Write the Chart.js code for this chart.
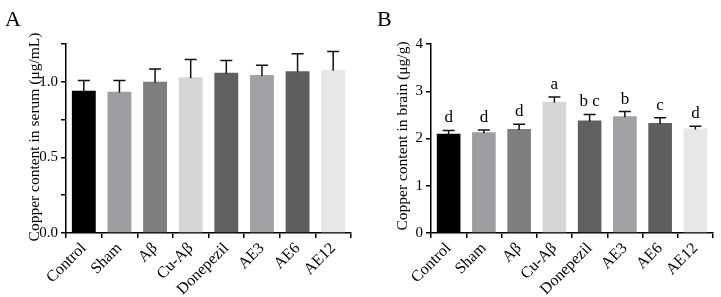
<!DOCTYPE html>
<html><head><meta charset="utf-8">
<script src="https://cdn.jsdelivr.net/npm/chart.js@4"></script>
<style>
html,body{margin:0;padding:0;background:#fff;width:721px;height:297px;overflow:hidden;}
#wrap{position:relative;width:721px;height:297px;}
canvas{position:absolute;top:0;}
.plabel{position:absolute;font-family:"Liberation Serif",serif;font-size:22px;color:#000;line-height:1;}
</style></head>
<body>
<div id="wrap">
<canvas id="cA" width="360" height="297" style="left:0"></canvas>
<canvas id="cB" width="361" height="297" style="left:360px"></canvas>
<div class="plabel" style="left:5px;top:8px">A</div>
<div class="plabel" style="left:377px;top:8px">B</div>
</div>
<script>
const categories = ['Control','Sham','Aβ','Cu-Aβ','Donepezil','AE3','AE6','AE12'];
const serumMean = [0.94, 0.935, 1.00, 1.03, 1.06, 1.045, 1.07, 1.08];
const serumErr  = [0.068, 0.074, 0.084, 0.117, 0.081, 0.065, 0.115, 0.12];
const brainMean = [2.10, 2.13, 2.20, 2.78, 2.38, 2.47, 2.33, 2.21];
const brainErr  = [0.07, 0.05, 0.10, 0.10, 0.13, 0.10, 0.11, 0.05];
const brainLetters = ['d','d','d','a','b c','b','c','d'];
const serumTickLabels = [0, 0.5, 1.0];
const barColors = ['#000000','#9d9da2','#7e7e7e','#d6d6d6','#606060','#a1a1a5','#5f5f5f','#e7e7e7'];

const FONT = '"Liberation Serif", "Times New Roman", serif';

const errPlugin = {
  id: 'errbars',
  afterDatasetsDraw(chart, args, opts) {
    const ctx = chart.ctx;
    const meta = chart.getDatasetMeta(0);
    const ys = chart.scales.y;
    const ds = chart.data.datasets[0];
    ctx.save();
    ctx.strokeStyle = '#111';
    ctx.lineWidth = 1.5;
    meta.data.forEach((bar, i) => {
      const v = ds.data[i];
      const e = opts.err[i];
      const yTop = ys.getPixelForValue(v + e);
      const yBase = ys.getPixelForValue(v);
      ctx.beginPath();
      ctx.moveTo(bar.x, yBase + 1);
      ctx.lineTo(bar.x, yTop);
      ctx.moveTo(bar.x - 6, yTop);
      ctx.lineTo(bar.x + 6, yTop);
      ctx.stroke();
      if (opts.letters) {
        ctx.fillStyle = '#000';
        ctx.font = '17px ' + FONT;
        ctx.textAlign = 'center';
        ctx.textBaseline = 'alphabetic';
        ctx.fillText(opts.letters[i], bar.x, yTop - 8);
      }
    });
    ctx.fillStyle = '#000';
    ctx.font = '15.5px ' + FONT;
    ctx.translate(opts.titleX, opts.titleY);
    ctx.rotate(-Math.PI / 2);
    ctx.textAlign = 'center';
    ctx.textBaseline = 'middle';
    ctx.fillText(opts.title, 0, 0);
    ctx.restore();
  }
};

function makeChart(id, values, err, letters, yOpts, leftW, rightPad, title, titleX, titleY) {
  return new Chart(document.getElementById(id), {
    type: 'bar',
    data: {
      labels: categories,
      datasets: [{
        data: values,
        backgroundColor: barColors,
        borderWidth: 0,
        categoryPercentage: 1,
        barPercentage: 0.67
      }]
    },
    options: {
      responsive: false,
      animation: false,
      devicePixelRatio: 1,
      layout: { padding: { left: 0, right: rightPad, top: 44, bottom: 0 } },
      plugins: {
        legend: { display: false },
        tooltip: { enabled: false },
        errbars: { err: err, letters: letters, title: title, titleX: titleX, titleY: titleY }
      },
      scales: {
        x: {
          offset: true,
          grid: { display: true, drawOnChartArea: false, drawTicks: true, tickLength: 5, color: '#000', lineWidth: 1.5 },
          border: { display: true, color: '#000', width: 1.5 },
          ticks: { color: '#000', font: { family: FONT, size: 16 }, maxRotation: 45, minRotation: 45, padding: 1, autoSkip: false },
          afterFit(s) { s.height = 64; }
        },
        y: Object.assign({
          beginAtZero: true,
          grid: { display: true, drawOnChartArea: false, drawTicks: true, tickLength: 5, color: '#000', lineWidth: 1.5 },
          border: { display: true, color: '#000', width: 1.5 },
          afterFit(s) { s.width = leftW; }
        }, yOpts)
      }
    },
    plugins: [errPlugin]
  });
}

makeChart('cA', serumMean, serumErr, null, {
  min: 0, max: 1.25,
  ticks: { stepSize: 0.25, color: '#000', font: { family: FONT, size: 15 }, padding: 3,
    callback: (v) => serumTickLabels.some(t => Math.abs(t - v) < 1e-9) ? v.toFixed(1) : '' }
}, 66, 9, 'Copper content in serum (μg/mL)', 35, 137);

makeChart('cB', brainMean, brainErr, brainLetters, {
  min: 0, max: 4,
  ticks: { stepSize: 1, color: '#000', font: { family: FONT, size: 15 }, padding: 3 }
}, 71, 8, 'Copper content in brain (μg/g)', 43, 136);
</script>
</body></html>
